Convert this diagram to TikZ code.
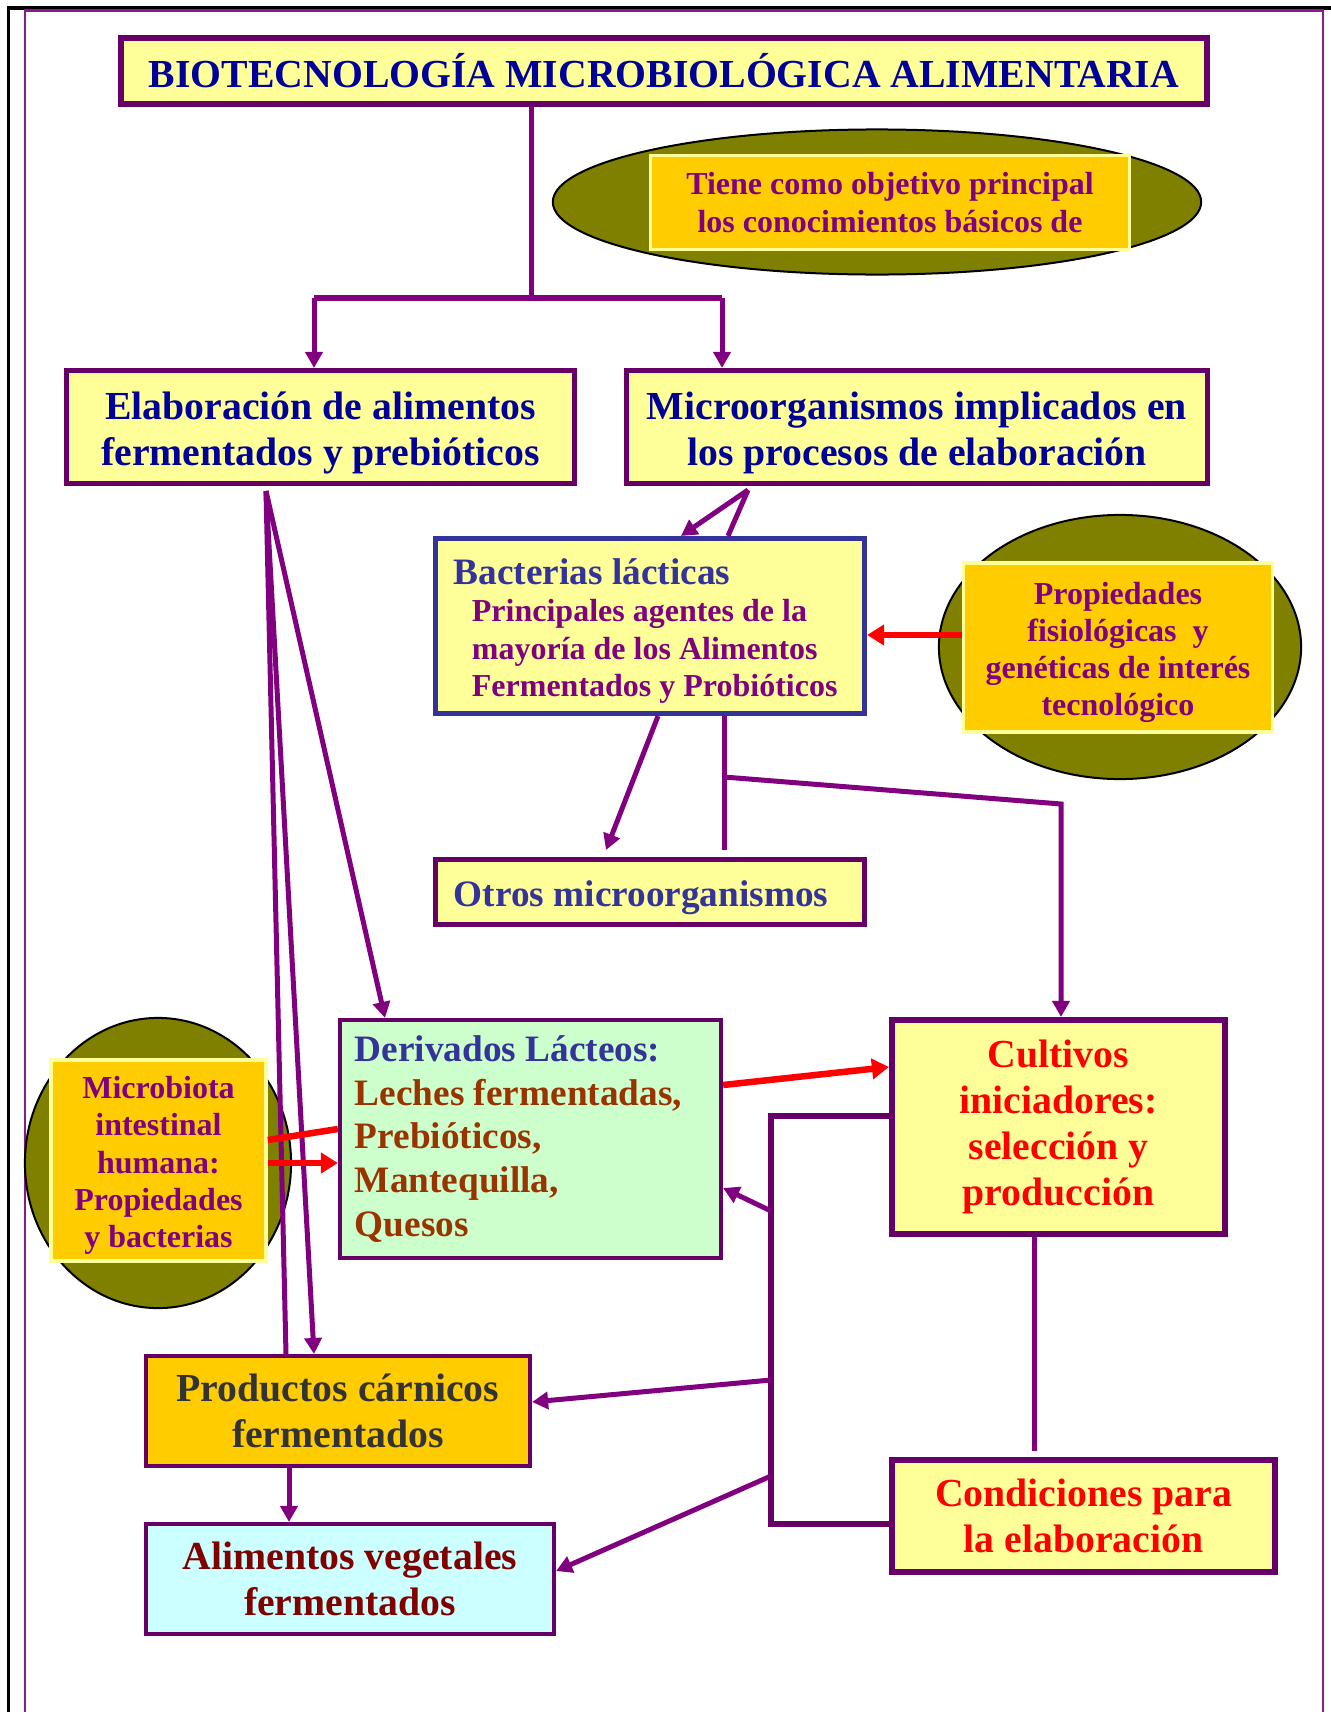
\documentclass[tikz,border=0pt]{standalone}
\usepackage{fontspec}
\setmainfont{Liberation Serif}
\usetikzlibrary{arrows.meta,shapes.geometric}
\definecolor{paleyellow}{HTML}{FFFF99}
\definecolor{plumdark}{HTML}{660066}
\definecolor{plum}{HTML}{800080}
\definecolor{navytxt}{HTML}{000099}
\definecolor{bluetxt}{HTML}{333399}
\definecolor{oliveell}{HTML}{808000}
\definecolor{goldbox}{HTML}{FFCC00}
\definecolor{browntxt}{HTML}{993300}
\definecolor{graytxt}{HTML}{333333}
\definecolor{maroontxt}{HTML}{800000}
\definecolor{mintbox}{HTML}{CCFFCC}
\definecolor{icebox}{HTML}{CCFFFF}
\definecolor{framepurple}{HTML}{8B1A8B}
\newcommand{\lift}[1]{\rule{0pt}{#1}}

\begin{document}
\begin{tikzpicture}
  [x=0.01cm,y=-0.01cm,
   box/.style={draw=plumdark, fill=paleyellow, line width=0.05cm, inner sep=0pt, align=center},
   gold/.style={draw=paleyellow, fill=goldbox, line width=0.035cm, inner sep=0pt, align=center, text=plum},
   ell/.style={ellipse, draw=black, fill=oliveell, line width=0.02cm, inner sep=0pt},
   big/.style={font=\fontsize{11.3}{13}\selectfont\bfseries},
   med/.style={font=\fontsize{10.6}{12.4}\selectfont\bfseries},
   small/.style={font=\fontsize{9.1}{10.6}\selectfont\bfseries},
   link/.style={draw=plum, line width=0.05cm},
   arr/.style={link, -{Triangle[length=0.16cm,width=0.17cm]}},
   redline/.style={draw=red, line width=0.065cm},
   redarr/.style={redline, -{Triangle[length=0.17cm,width=0.2cm]}},
   bracket/.style={draw=plumdark, line width=0.055cm}]

  \useasboundingbox (0,0) rectangle (1331,1712);
  % page frame
  \draw[line width=0.03cm] (8.5,1712) -- (8.5,8) -- (1331,8);
  \draw[framepurple, line width=0.02cm] (25,1712) -- (25,10.5) -- (1323,10.5) -- (1323,1712);

  \node[box, big, text=navytxt, line width=0.06cm, minimum width=10.85cm, minimum height=0.66cm] (title) at (664,71) {BIOTECNOLOGÍA MICROBIOLÓGICA ALIMENTARIA};

  \node[ell, minimum width=6.48cm, minimum height=1.45cm] (objell) at (877,202) {};
  \node[gold, small, minimum width=4.79cm, minimum height=0.94cm] (objetivo) at (890,202.5) {Tiene como objetivo principal\\los conocimientos básicos de};

  \node[box, big, text=navytxt, minimum width=5.08cm, minimum height=1.13cm] (elab) at (320.5,427) {\lift{0.40cm}Elaboración de alimentos\\fermentados y prebióticos};
  \node[box, big, text=navytxt, minimum width=5.81cm, minimum height=1.13cm] (micro) at (917,427) {\lift{0.39cm}Microorganismos implicados en\\los procesos de elaboración};

  \node[box, small, draw=bluetxt, text=plum, align=flush left, text width=3.92cm, inner xsep=0.185cm, minimum height=1.75cm] (bact) at (650,626)
    {{\fontsize{10.6}{12.4}\selectfont\color{bluetxt}\lift{0.36cm}Bacterias lácticas}\\
     \hspace*{0.18cm}Principales agentes de la\\
     \hspace*{0.18cm}mayoría de los Alimentos\\
     \hspace*{0.18cm}Fermentados y Probióticos};

  \node[ell, minimum width=3.62cm, minimum height=2.64cm] (propell) at (1120,647) {};
  \node[gold, small, minimum width=3.09cm, minimum height=1.69cm] (prop) at (1118,647.5) {\lift{0.32cm}Propiedades\\fisiológicas\ \ y\\genéticas de interés\\tecnológico};

  \node[box, med, text=bluetxt, align=flush left, text width=3.92cm, inner xsep=0.185cm, minimum height=0.64cm] (otros) at (650,892) {\lift{0.37cm}Otros microorganismos};

  \node[box, med, fill=mintbox, line width=0.04cm, text=browntxt, align=flush left, text width=3.51cm, inner xsep=0.15cm, minimum height=2.38cm] (deriv) at (530.5,1139)
    {{\color{bluetxt}Derivados Lácteos:}\\Leches fermentadas,\\Prebióticos,\\Mantequilla,\\Quesos};

  \node[box, big, text=red, line width=0.06cm, minimum width=3.33cm, minimum height=2.14cm] (cult) at (1058.5,1127) {Cultivos\\iniciadores:\\selección y\\producción};

  \node[ell, minimum width=2.66cm, minimum height=2.90cm] (microell) at (158,1163) {};
  \node[gold, small, minimum width=2.15cm, minimum height=2.01cm] (microbiota) at (158.5,1160.5) {\lift{0.32cm}Microbiota\\intestinal\\humana:\\Propiedades\\y bacterias};

  \node[box, big, fill=goldbox, line width=0.04cm, text=graytxt, minimum width=3.84cm, minimum height=1.10cm] (prod) at (338,1411) {Productos cárnicos\\fermentados};
  \node[box, big, fill=icebox, line width=0.04cm, text=maroontxt, minimum width=4.08cm, minimum height=1.10cm] (alim) at (350,1579) {Alimentos vegetales\\fermentados};
  \node[box, big, text=red, line width=0.06cm, minimum width=3.83cm, minimum height=1.12cm] (cond) at (1083.5,1516) {Condiciones para\\la elaboración};

  % title split
  \coordinate (split) at (531,298);
  \coordinate (splitL) at (314,298);
  \coordinate (splitR) at (722,298);
  \draw[link] (title.south -| split) -- (split);
  \draw[link, line width=0.06cm] (splitL) -- (splitR);
  \draw[arr] (splitL) -- (splitL |- elab.north);
  \draw[arr] (splitR) -- (splitR |- micro.north);

  % microorganisms
  \coordinate (vtip) at (748,490);
  \draw[arr] (vtip) -- (bact.north -| 681,0);
  \draw[link] (vtip) -- (bact.north -| 728,0);
  \draw[redarr] (prop.west |- 0,635) -- (bact.east |- 0,635);

  \coordinate (stub) at (724,850);
  \coordinate (knee) at (724,777);
  \coordinate (bend) at (1061,804);
  \draw[arr] (bact.south -| 658,0) -- (606,850);
  \draw[link] (bact.south -| 724,0) -- (stub);
  \draw[arr] (knee) -- (bend) -- (bend |- cult.north);

  % elaboration branches
  \coordinate (eroot) at (266,491);
  \foreach \to/\x in {deriv/385, prod/314}
    \draw[arr] (eroot) -- (\to.north -| \x,0);
  \draw[link] (eroot) -- (prod.north -| 286,0);

  \draw[redline] (microbiota.east |- 0,1140) -- (deriv.west |- 0,1129);
  \draw[redarr] (microbiota.east |- 0,1163) -- (deriv.west |- 0,1163);
  \draw[redarr] (deriv.east |- 0,1085) -- (cult.west |- 0,1067);

  \draw[arr] (prod.south -| 289,0) -- (alim.north -| 289,0);

  % starter cultures and conditions
  \coordinate (cstub) at (1034,1451);
  \draw[link] (cult.south -| cstub) -- (cstub);
  \coordinate (brTop) at (771,1116);
  \coordinate (brBot) at (771,1524);
  \draw[bracket] (cult.west |- brTop) -- (brTop) -- (brBot) -- (cond.west |- brBot);
  \foreach \y/\to/\ty in {1211/deriv/1188, 1380/prod/1402, 1476/alim/1571}
    \draw[arr] (brTop |- 0,\y) -- (\to.east |- 0,\ty);
\end{tikzpicture}
\end{document}
